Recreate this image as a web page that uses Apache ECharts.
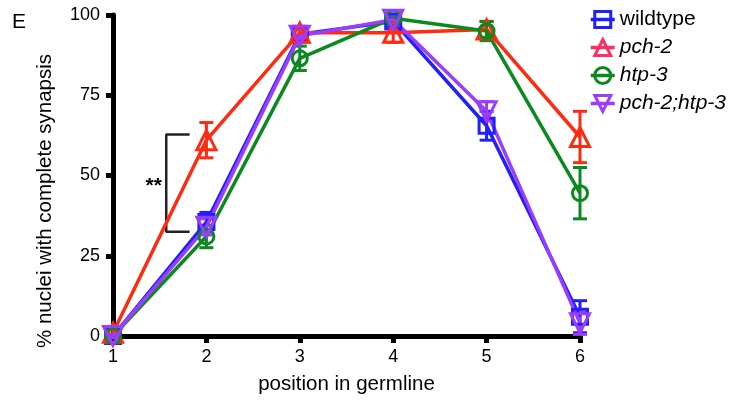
<!DOCTYPE html>
<html><head><meta charset="utf-8">
<script src="https://cdn.jsdelivr.net/npm/echarts@6/dist/echarts.min.js"></script>
<style>html,body{margin:0;padding:0;background:#fff}#c{width:735px;height:408px}</style>
</head><body><div id="c"></div>
<script>
const positions = [1, 2, 3, 4, 5, 6];
const seriesNames = ['wildtype', 'pch-2', 'htp-3', 'pch-2;htp-3'];
const wildtype = [0, 35.5, 94, 98, 65.5, 6];
const wildtypeErr = [0.5, 3, 2, 1.5, 4.5, 5];
const pch2 = [1, 61, 94.5, 94.5, 95.5, 62];
const pch2Err = [1, 5.5, 2, 3, 2.5, 8];
const htp3 = [0, 31, 86.5, 99, 95, 44.5];
const htp3Err = [0.5, 3.5, 3.8, 1, 3, 8];
const pch2htp3 = [0, 34, 93.5, 98.5, 70, 4];
const pch2htp3Err = [0.5, 2.5, 2, 1.5, 3, 3.5];
const yTicks = [0, 25, 50, 75, 100];
const bracketX = [1.82, 1.57, 1.57, 1.82];
const bracketY = [62.8, 62.8, 32.5, 32.5];

const colors = ['#1f1fff', '#ff2a10', '#0a8a1e', '#9b3cff'];
const legendColors = ['#1f1fff', '#ff2f5f', '#0a8a1e', '#9b3cff'];
const symbols = ['rect', 'triangle', 'circle', 'path://M0,0 L10,0 L5,9 Z'];
const symbolSizes = [15, 19, 15, 19];
const values = [wildtype, pch2, htp3, pch2htp3];
const errs = [wildtypeErr, pch2Err, htp3Err, pch2htp3Err];

const series = [];
seriesNames.forEach((name, i) => {
  series.push({
    name: name, type: 'line', z: 4,
    data: positions.map((p, j) => [p, values[i][j]]),
    symbol: symbols[i], symbolSize: symbolSizes[i], showAllSymbol: true,
    lineStyle: { color: colors[i], width: 3.5 },
    itemStyle: { color: 'rgba(255,255,255,0)', borderColor: colors[i], borderWidth: 3 },
    emphasis: { disabled: true }, animation: false
  });
  series.push({
    name: name + ' error', type: 'custom', silent: true, z: 3,
    data: positions.map((p, j) => [p, values[i][j] - errs[i][j], values[i][j] + errs[i][j]]),
    renderItem: function (params, api) {
      const top = api.coord([api.value(0), api.value(2)]);
      const bot = api.coord([api.value(0), api.value(1)]);
      const hw = 7;
      const st = { stroke: colors[i], lineWidth: 3 };
      return { type: 'group', children: [
        { type: 'line', shape: { x1: top[0], y1: top[1], x2: bot[0], y2: bot[1] }, style: st },
        { type: 'line', shape: { x1: top[0] - hw, y1: top[1], x2: top[0] + hw, y2: top[1] }, style: st },
        { type: 'line', shape: { x1: bot[0] - hw, y1: bot[1], x2: bot[0] + hw, y2: bot[1] }, style: st }
      ]};
    }
  });
});
series.push({
  type: 'line', name: 'bracket', silent: true, z: 2,
  data: bracketX.map((x, k) => [x, bracketY[k]]),
  symbol: 'none', lineStyle: { color: '#222', width: 2.5 },
  markPoint: {
    symbol: 'circle', symbolSize: 0,
    data: [{ coord: [1.5, 47.5], label: { show: true, formatter: '**', color: '#000', fontSize: 21, fontWeight: 'bold', fontFamily: 'Liberation Sans', offset: [-6, 3] } }]
  },
  animation: false
});

const chart = echarts.init(document.getElementById('c'), null, { renderer: 'canvas' });
chart.setOption({
  animation: false,
  backgroundColor: '#fff',
  textStyle: { fontFamily: 'Liberation Sans, Arial, sans-serif' },
  title: { text: 'E', left: 7, top: 7, textStyle: { fontSize: 21, fontWeight: 'normal', color: '#000', fontFamily: 'Liberation Sans' } },
  grid: { left: 113, right: 155, top: 15, bottom: 72, containLabel: false },
  legend: {
    orient: 'vertical', left: 584, top: 4, itemGap: 7, itemWidth: 24, itemHeight: 20,
    data: seriesNames.map((n, i) => ({ name: n, itemStyle: { color: 'rgba(255,255,255,0)', borderColor: legendColors[i], borderWidth: 3 }, lineStyle: { color: legendColors[i], width: 3.5 },
      textStyle: { fontStyle: i === 0 ? 'normal' : 'italic' } })),
    textStyle: { fontSize: 21, color: '#000', fontFamily: 'Liberation Sans' },
    selectedMode: false
  },
  xAxis: {
    type: 'value', min: 1, max: 6, interval: 1,
    name: 'position in germline', nameLocation: 'middle', nameGap: 38,
    nameTextStyle: { fontSize: 20.5, color: '#000' },
    axisLine: { show: true, lineStyle: { color: '#000', width: 5 } },
    axisTick: { show: true, length: 7, lineStyle: { color: '#000', width: 5 } },
    axisLabel: { fontSize: 18, color: '#000', margin: 12 },
    splitLine: { show: false }
  },
  yAxis: {
    type: 'value', min: 0, max: 100, interval: 25,
    axisLine: { show: true, lineStyle: { color: '#000', width: 5 } },
    axisTick: { show: true, length: 7, lineStyle: { color: '#000', width: 5 } },
    axisLabel: { fontSize: 18, color: '#000', margin: 13, formatter: v => yTicks.includes(v) ? String(v) : '' },
    splitLine: { show: false }
  },
  graphic: [{
    type: 'text', x: 45, y: 201, rotation: Math.PI / 2, silent: true,
    style: { text: '% nuclei with complete synapsis', fontSize: 20.5, fill: '#000', fontFamily: 'Liberation Sans', align: 'center', verticalAlign: 'middle' }
  }],
  series: series
});
</script></body></html>
